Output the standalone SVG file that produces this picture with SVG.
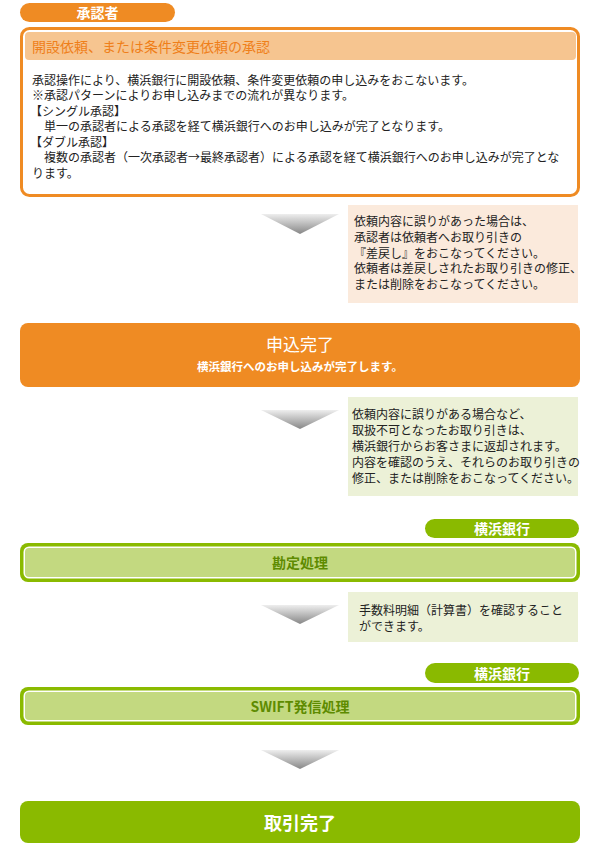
<svg xmlns="http://www.w3.org/2000/svg" width="600" height="863" viewBox="0 0 600 863">
<style>
text { font-family: "Noto Sans CJK JP", "Noto Sans", sans-serif; }
.body { font-size: 12px; fill: #222222; }
.tab { font-size: 14px; font-weight: bold; fill: #ffffff; text-anchor: middle; }
.orange { fill: #ef8b23; }
.green { fill: #8aba00; }
.lgfill { fill: #c3d980; }
.gtitle { font-size: 14px; font-weight: bold; fill: #5e8b00; text-anchor: middle; }
.wtitle { fill: #ffffff; text-anchor: middle; }
.arrow { fill: url(#ag); }
</style>
<defs>
<linearGradient id="ag" x1="0" y1="0" x2="0" y2="1">
<stop offset="0" stop-color="#eeeeee"/>
<stop offset="1" stop-color="#878787"/>
</linearGradient>
</defs>
<rect width="600" height="863" fill="#ffffff"/>

<g id="tab-approver">
<rect class="orange" x="20" y="3" width="155" height="19" rx="9.5"/>
<text class="tab" x="97.5" y="18">承認者</text>
</g>

<g id="node-approval">
<rect x="21.5" y="28.5" width="557" height="167" rx="8" fill="#ffffff" stroke="#ef8b23" stroke-width="3"/>
<rect x="25" y="32" width="551" height="28" rx="4" fill="#f6c590"/>
<text x="32" y="52" font-size="14" fill="#ef7f1a">開設依頼、または条件変更依頼の承認</text>
<text class="body" x="32" y="84.5">承認操作により、横浜銀行に開設依頼、条件変更依頼の申し込みをおこないます。</text>
<text class="body" x="32" y="100">※承認パターンによりお申し込みまでの流れが異なります。</text>
<text class="body" x="30" y="115.5">【シングル承認】</text>
<text class="body" x="44" y="131">単一の承認者による承認を経て横浜銀行へのお申し込みが完了となります。</text>
<text class="body" x="30" y="146.5">【ダブル承認】</text>
<text class="body" x="44" y="162">複数の承認者（一次承認者→最終承認者）による承認を経て横浜銀行へのお申し込みが完了とな</text>
<text class="body" x="32" y="177.5">ります。</text>
</g>

<g id="note-1">
<rect x="348" y="205" width="230" height="98" fill="#fbeadc"/>
<text class="body" x="354" y="226">依頼内容に誤りがあった場合は、</text>
<text class="body" x="354" y="241.8">承認者は依頼者へお取り引きの</text>
<text class="body" x="354" y="257.6">『差戻し』をおこなってください。</text>
<text class="body" x="354" y="273.4">依頼者は差戻しされたお取り引きの修正、</text>
<text class="body" x="354" y="289.2">または削除をおこなってください。</text>
</g>

<g id="node-applied">
<rect class="orange" x="20" y="323" width="560" height="64" rx="8"/>
<text class="wtitle" x="300" y="351" font-size="17">申込完了</text>
<text class="wtitle" x="300" y="370.5" font-size="11.5" font-weight="bold">横浜銀行へのお申し込みが完了します。</text>
</g>

<g id="note-2">
<rect x="348" y="397" width="230" height="99" fill="#ecf1d7"/>
<text class="body" x="352" y="418.5">依頼内容に誤りがある場合など、</text>
<text class="body" x="352" y="434.5">取扱不可となったお取り引きは、</text>
<text class="body" x="352" y="450.5">横浜銀行からお客さまに返却されます。</text>
<text class="body" x="352" y="466.5">内容を確認のうえ、それらのお取り引きの</text>
<text class="body" x="352" y="482.5">修正、または削除をおこなってください。</text>
</g>

<g id="tab-bank-1">
<rect class="green" x="425" y="519" width="154" height="19" rx="9.5"/>
<text class="tab" x="502" y="534">横浜銀行</text>
</g>

<g id="node-accounting">
<rect class="green" x="20" y="543" width="560" height="39" rx="8"/>
<rect x="23.5" y="546.5" width="553" height="32" rx="5.5" fill="#ffffff"/>
<rect class="lgfill" x="25" y="548" width="550" height="29" rx="4"/>
<text class="gtitle" x="300" y="568">勘定処理</text>
</g>

<g id="note-3">
<rect x="348" y="592" width="230" height="50" fill="#ecf1d7"/>
<text class="body" x="359" y="614.5">手数料明細（計算書）を確認すること</text>
<text class="body" x="359" y="631">ができます。</text>
</g>

<g id="tab-bank-2">
<rect class="green" x="425" y="663" width="154" height="20" rx="10"/>
<text class="tab" x="502" y="678.5">横浜銀行</text>
</g>

<g id="node-swift">
<rect class="green" x="20" y="687" width="560" height="38" rx="8"/>
<rect x="23.5" y="690.5" width="553" height="31" rx="5.5" fill="#ffffff"/>
<rect class="lgfill" x="25" y="692" width="550" height="28" rx="4"/>
<text class="gtitle" x="300" y="712">SWIFT発信処理</text>
</g>

<g id="node-complete">
<rect class="green" x="20" y="801" width="560" height="42" rx="8"/>
<text class="wtitle" x="300" y="829.5" font-size="18" font-weight="bold">取引完了</text>
</g>

<g id="connectors">
<polygon class="arrow" points="261,214 339,214 300,234"/>
<polygon class="arrow" points="261,410 339,410 300,429"/>
<polygon class="arrow" points="261,605 339,605 300,624"/>
<polygon class="arrow" points="261,750 339,750 300,769"/>
</g>
</svg>
